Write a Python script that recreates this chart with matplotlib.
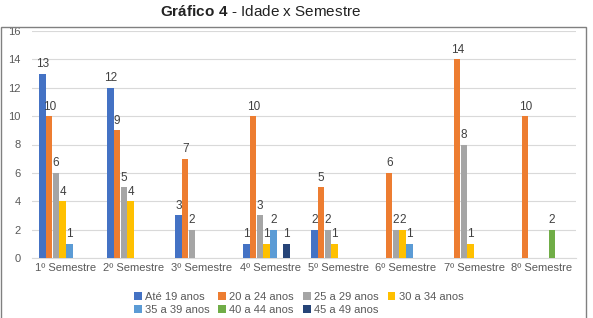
import matplotlib.pyplot as plt
from matplotlib.patches import Rectangle
import numpy as np

plt.rcParams['font.family'] = ['Liberation Sans', 'DejaVu Sans']
plt.rcParams['mathtext.fontset'] = 'custom'
plt.rcParams['mathtext.rm'] = 'Liberation Sans'
plt.rcParams['mathtext.bf'] = 'Liberation Sans:bold'

semestres = ['1º Semestre', '2º Semestre', '3º Semestre', '4º Semestre',
             '5º Semestre', '6º Semestre', '7º Semestre', '8º Semestre']
faixas = ['Até 19 anos', '20 a 24 anos', '25 a 29 anos', '30 a 34 anos',
          '35 a 39 anos', '40 a 44 anos', '45 a 49 anos']
ate19 = [13, 12, 3, 1, 2, 0, 0, 0]
a20_24 = [10, 9, 7, 10, 5, 6, 14, 10]
a25_29 = [6, 5, 2, 3, 2, 2, 8, 0]
a30_34 = [4, 4, 0, 1, 1, 2, 1, 0]
a35_39 = [1, 0, 0, 2, 0, 1, 0, 0]
a40_44 = [0, 0, 0, 0, 0, 0, 0, 2]
a45_49 = [0, 0, 0, 1, 0, 0, 0, 0]
series = [ate19, a20_24, a25_29, a30_34, a35_39, a40_44, a45_49]
cores = ['#4472C4', '#ED7D31', '#A5A5A5', '#FFC000', '#5B9BD5', '#70AD47', '#264478']

fig = plt.figure(figsize=(5.93, 3.18), dpi=100)
fig.patches.append(Rectangle((0.002, -0.1), 0.986, 1.015, transform=fig.transFigure,
                             fill=False, edgecolor='#808080', lw=1))
fig.text(0.44, 0.965, r'$\bf{Gráfico\ 4}$ - Idade x Semestre', ha='center', va='center',
         fontsize=11, color='#222222')

ax = fig.add_axes([32/593, 60/318, 544/593, 227/318])
x = np.arange(len(semestres))
w = 0.69 / 7
for i, (vals, nome, cor) in enumerate(zip(series, faixas, cores)):
    pos = x - 0.345 + w * (i + 0.5) - 0.05
    ax.bar(pos, vals, width=w * 0.98, color=cor, label=nome, zorder=3)
    for p, v in zip(pos, vals):
        if v:
            ax.text(p, v + 0.25, str(v), ha='center', va='bottom', fontsize=8.5, color='#404040')

ax.set_xlim(-0.5, 7.5)
ax.set_ylim(0, 16)
ax.set_yticks(range(0, 17, 2))
ax.set_xticks(x)
ax.set_xticklabels(semestres)
ax.tick_params(length=0, labelsize=8, colors='#595959')
ax.tick_params(axis='y', pad=8)
ax.grid(axis='y', color='#D9D9D9', lw=0.8, zorder=0)
for s in ['top', 'right', 'left']:
    ax.spines[s].set_visible(False)
ax.spines['bottom'].set_color('#D9D9D9')

# legenda preenchida por linhas, como no Excel
h, l = ax.get_legend_handles_labels()
ordem = [0, 4, 1, 5, 2, 6, 3]
ax.legend([h[k] for k in ordem], [l[k] for k in ordem],
          loc='upper center', bbox_to_anchor=(0.49, -0.115), ncol=4, frameon=False,
          fontsize=8, handlelength=0.7, handleheight=0.7, handletextpad=0.3,
          columnspacing=0.8, labelcolor='#595959', labelspacing=0.25,
          borderaxespad=0.3)

fig.savefig('out.png', dpi=100)
